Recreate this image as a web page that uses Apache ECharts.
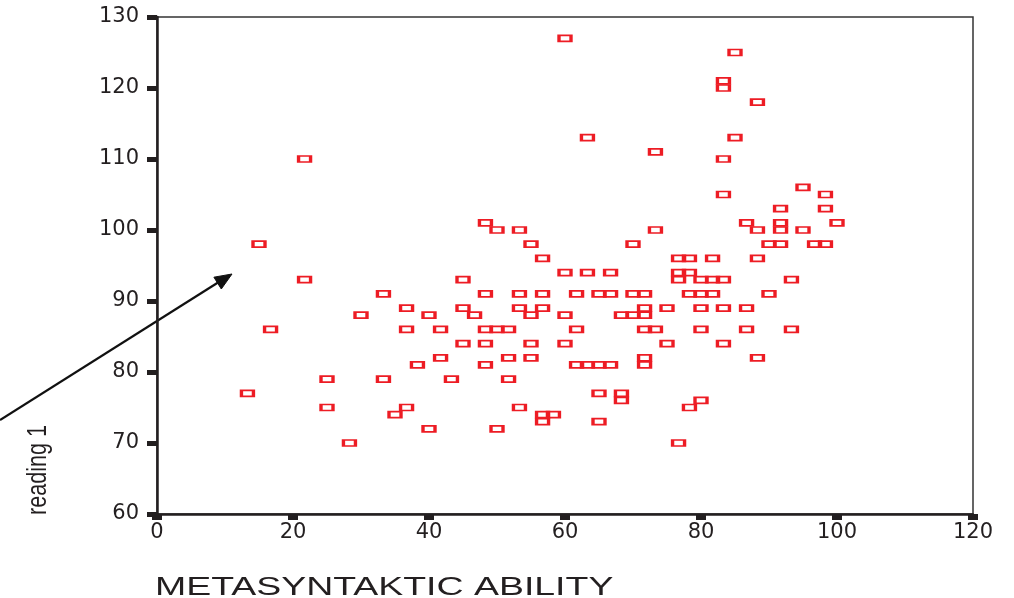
<!DOCTYPE html>
<html>
<head>
<meta charset="utf-8">
<script src="https://cdn.jsdelivr.net/npm/echarts@6/dist/echarts.min.js"></script>
<style>
html,body{margin:0;padding:0;background:#fff;}
#chart{width:1014px;height:598px;}
</style>
</head>
<body>
<div id="chart"></div>
<script>
// METASYNTAKTIC ABILITY (x) vs reading 1 (y)
var abilityValues = [
  13.3, 15, 16.7, 21.7, 21.7, 25, 25, 28.3, 30, 33.3, 33.3, 35,
  36.7, 36.7, 36.7, 38.3, 40, 40, 41.7, 41.7, 43.3, 45, 45, 45, 46.7,
  48.3, 48.3, 48.3, 48.3, 48.3, 50, 50, 50, 51.7, 51.7, 51.7,
  53.3, 53.3, 53.3, 53.3, 55, 55, 55, 55, 56.7, 56.7, 56.7, 56.7, 56.7,
  58.3, 60, 60, 60, 60, 61.7, 61.7, 61.7, 63.3, 63.3, 63.3,
  65, 65, 65, 65, 66.7, 66.7, 66.7, 68.3, 68.3, 68.3, 70, 70, 70,
  71.7, 71.7, 71.7, 71.7, 71.7, 71.7, 73.3, 73.3, 73.3, 75, 75,
  76.7, 76.7, 76.7, 76.7, 78.3, 78.3, 78.3, 78.3, 80, 80, 80, 80, 80,
  81.7, 81.7, 81.7, 83.3, 83.3, 83.3, 83.3, 83.3, 83.3, 83.3, 85, 85,
  86.7, 86.7, 86.7, 88.3, 88.3, 88.3, 88.3, 90, 90, 91.7, 91.7, 91.7, 91.7,
  93.3, 93.3, 95, 95, 96.7, 98.3, 98.3, 98.3, 100
];
var readingValues = [
  77, 98, 86, 110, 93, 79, 75, 70, 88, 91, 79, 74,
  89, 86, 75, 81, 88, 72, 86, 82, 79, 93, 89, 84, 88,
  101, 91, 86, 84, 81, 100, 86, 72, 86, 82, 79,
  100, 91, 89, 75, 98, 88, 84, 82, 96, 91, 89, 74, 73,
  74, 127, 94, 88, 84, 91, 86, 81, 113, 94, 81,
  91, 81, 77, 73, 94, 91, 81, 88, 77, 76, 98, 91, 88,
  91, 89, 88, 86, 82, 81, 111, 100, 86, 89, 84,
  96, 94, 93, 70, 96, 94, 91, 75, 93, 91, 89, 86, 76,
  96, 93, 91, 121, 120, 110, 105, 93, 89, 84, 125, 113,
  101, 89, 86, 118, 100, 96, 82, 98, 91, 103, 101, 100, 98,
  93, 86, 106, 100, 98, 105, 103, 98, 101
];
var xTitle = 'METASYNTAKTIC ABILITY';
var yTitle = 'reading 1';

var points = abilityValues.map(function (v, i) { return [v, readingValues[i]]; });

var chart = echarts.init(document.getElementById('chart'), null, {renderer: 'canvas'});
var ink = '#231f20';
var labelFont = {fontFamily: 'DejaVu Sans', fontSize: 21, color: ink};

chart.setOption({
  animation: false,
  backgroundColor: '#ffffff',
  grid: {
    left: 157, right: 41, top: 17, bottom: 84,
    show: true, borderColor: '#333', borderWidth: 1.5, backgroundColor: 'transparent'
  },
  xAxis: {
    type: 'value', min: 0, max: 120, interval: 20,
    splitLine: {show: false},
    axisLine: {show: true, onZero: false, lineStyle: {color: ink, width: 2.5}},
    axisTick: {show: true, length: 6, lineStyle: {color: ink, width: 10}},
    axisLabel: Object.assign({margin: 8}, labelFont)
  },
  yAxis: {
    type: 'value', min: 60, max: 130, interval: 10,
    splitLine: {show: false},
    axisLine: {show: true, onZero: false, lineStyle: {color: ink, width: 2.5}},
    axisTick: {show: true, length: 10, lineStyle: {color: ink, width: 5}},
    axisLabel: Object.assign({margin: 18}, labelFont)
  },
  series: [{
    type: 'scatter',
    data: points,
    symbol: 'rect',
    symbolSize: [12, 6],
    silent: true,
    itemStyle: {color: 'rgba(255,255,255,0)', borderColor: '#ed1c24', borderWidth: 2.4, opacity: 1}
  }],
  graphic: [
    {
      type: 'text', x: 155, y: 588, scaleX: 1.44, silent: true,
      style: {text: xTitle, fontFamily: 'Liberation Sans', fontSize: 26, fill: ink,
              textAlign: 'left', textVerticalAlign: 'middle'}
    },
    {
      type: 'text', x: 39, y: 515, rotation: Math.PI / 2, scaleX: 0.8, silent: true,
      style: {text: yTitle, fontFamily: 'Liberation Sans', fontSize: 27, fill: ink,
              textAlign: 'left', textVerticalAlign: 'middle'}
    },
    {
      type: 'polyline', silent: true,
      shape: {points: [[0, 420], [222, 280]]},
      style: {stroke: '#111', lineWidth: 2.2}
    },
    {
      type: 'polygon', silent: true,
      shape: {points: [[232, 274], [221.3, 289], [213.9, 277.2]]},
      style: {fill: '#111', stroke: '#111', lineWidth: 1}
    }
  ]
});
</script>
</body>
</html>
